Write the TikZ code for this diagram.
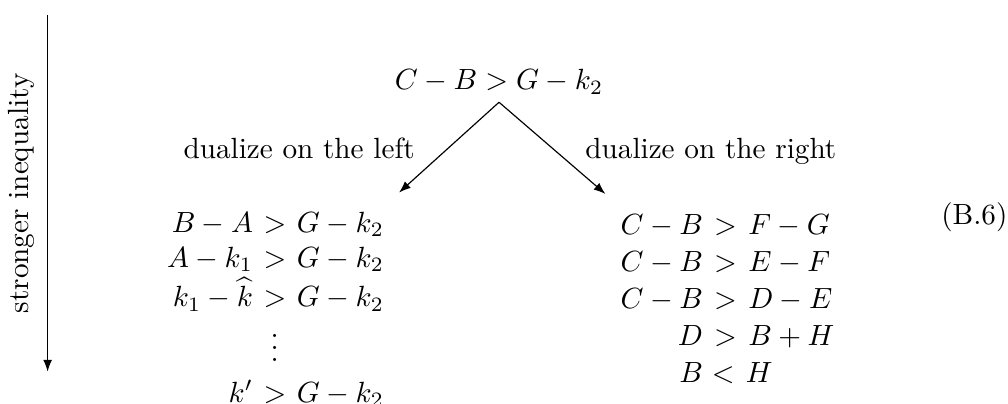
\documentclass[tikz,border=0pt]{standalone}
\usepackage{amsmath}
\usepackage{amssymb}
\usepackage{xcolor}
\usepackage{tikz}
\usetikzlibrary{arrows.meta,positioning}

\begin{document}
\begin{tikzpicture}[
      x=1pt, y=1pt,
      ineq/.style={inner sep=5pt, anchor=base west},
      lbl/.style={inner sep=0pt, anchor=base},
      arr/.style={-{Latex[length=4pt,width=3pt]}}
    ]
      \useasboundingbox (0,0) rectangle (345,-138);
      % strength axis
      \coordinate (axtop) at (16.3,-5.1);
      \coordinate (axbot) at (16.3,-127.2);
      \draw[arr] (axtop) -- (axbot);
      \node[inner sep=0pt, rotate=90] (axis) at (7.4,-66.2) {stronger inequality};
      % the inequality and its two dualizations
      \node[inner sep=2.5pt, anchor=base] (start) at (170.8,-30.8) {$C-B>G-k_2$};
      \node[ineq] (left) at (52.0,-79.5) {$\begin{array}[t]{@{}r@{}l@{}}
          B-A & {}\mskip1.5mu>\mskip1.5mu G-k_2\\
          A-k_1 & {}\mskip1.5mu>\mskip1.5mu G-k_2\\
          k_1-\widehat{k} & {}\mskip1.5mu>\mskip1.5mu G-k_2\\
          & \hspace{6pt}\vdots\\[2pt]
          k' & {}\mskip1.5mu>\mskip1.5mu G-k_2
        \end{array}$};
      \node[ineq] (right) at (207.2,-80.4) {$\renewcommand{\arraystretch}{1.05}\begin{array}[t]{@{}r@{}l@{}}
          C-B & {}\mskip2mu>\mskip2mu F-G\\
          C-B & {}\mskip2mu>\mskip2mu E-F\\
          C-B & {}\mskip2mu>\mskip2mu D-E\\
          D & {}\mskip2mu>\mskip2mu B+H\\
          B & {}\hspace{0.3pt}<\mskip2mu H
        \end{array}$};
      \node[lbl] (dleft) at (102.4,-54.2) {dualize on the left};
      \node[lbl] (dright) at (243.3,-54.2) {dualize on the right};
      \node[lbl, anchor=base east] (eqno) at (345,-76.9) {(B.6)};
      \draw[arr] (start.south) -- (left.north east);
      \draw[arr] (start.south) -- (right.north west);
    \end{tikzpicture}
\end{document}
